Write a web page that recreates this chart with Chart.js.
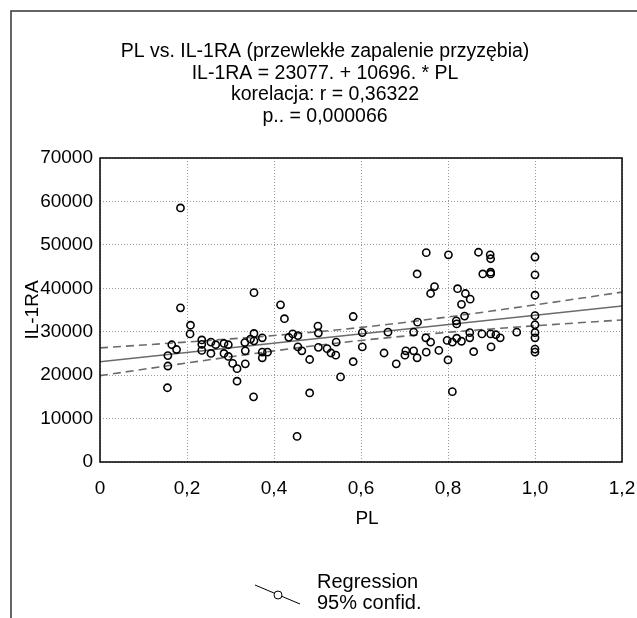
<!DOCTYPE html>
<html>
<head>
<meta charset="utf-8">
<script src="https://cdn.jsdelivr.net/npm/chart.js@4/dist/chart.umd.min.js"></script>
<style>
  html, body { margin: 0; padding: 0; background: #fff; }
  #wrap { width: 637px; height: 618px; }
</style>
</head>
<body>
<div id="wrap"><canvas id="chart" width="637" height="618"></canvas></div>
<script>
/* dane */
const plValues = [
  0.185, 0.354, 0.185, 0.208, 0.207, 0.165, 0.176, 0.156, 0.156, 0.155,
  0.234, 0.234, 0.234, 0.255, 0.255, 0.266, 0.285, 0.295, 0.285, 0.295,
  0.305, 0.315, 0.315, 0.333, 0.346, 0.354, 0.354, 0.373, 0.334, 0.334,
  0.373, 0.373, 0.385, 0.353, 0.750, 0.729, 0.769, 0.760, 0.415, 0.424,
  0.434, 0.443, 0.455, 0.455, 0.464, 0.482, 0.482, 0.453, 0.501, 0.502,
  0.502, 0.522, 0.531, 0.543, 0.542, 0.553, 0.582, 0.582, 0.603, 0.603,
  0.653, 0.662, 0.681, 0.701, 0.703, 0.721, 0.721, 0.730, 0.729, 0.749,
  0.750, 0.760, 0.779, 0.801, 0.870, 0.897, 0.898, 1.000, 0.880, 0.898,
  0.898, 1.000, 0.822, 0.840, 0.851, 0.831, 1.000, 0.838, 0.819, 0.820,
  1.000, 1.000, 1.000, 1.000, 1.000, 1.000, 0.850, 0.850, 0.878, 0.898,
  0.910, 0.920, 0.958, 0.899, 0.859, 0.800, 0.798, 0.810, 0.820, 0.831,
  0.810
];
const il1raValues = [
  58500, 39000, 35500, 31500, 29500, 27000, 25900, 24500, 22100, 17100,
  28100, 27100, 25700, 27600, 25000, 27000, 27300, 27000, 25000, 24300,
  22700, 21500, 18600, 27500, 28300, 29600, 27900, 28600, 25600, 22600,
  25300, 24000, 25300, 15000, 48200, 43300, 40400, 38800, 36200, 33000,
  28700, 29500, 29100, 26500, 25600, 23600, 15900, 5900, 31300, 29700,
  26400, 26100, 25100, 27600, 24600, 19600, 33500, 23100, 29800, 26500,
  25100, 29900, 22600, 24600, 25600, 29900, 25600, 32200, 24000, 28600,
  25300, 27600, 25700, 47700, 48300, 47700, 46800, 47200, 43300, 43700,
  43300, 43100, 39900, 38800, 37500, 36300, 38400, 33600, 32500, 31800,
  33700, 31600, 29800, 28600, 26000, 25300, 29800, 28600, 29500, 29500,
  29300, 28600, 29900, 26500, 25400, 23500, 28000, 27600, 28500, 27800,
  16200
];

/* linia regresji: IL-1RA = 23077 + 10696 * PL */
const regX = [0, 1.2];
const regY = [23077, 35912];

/* przedział ufności 95% (odczytany) */
const bandX = [0, 0.1, 0.2, 0.3, 0.4, 0.5, 0.6, 0.7, 0.8, 0.9, 1.0, 1.1, 1.2];
const bandUpper = [26277, 26940, 27624, 28347, 29126, 29997, 30995, 32136, 33405, 34764, 36181, 37636, 39112];
const bandLower = [19877, 21354, 22808, 24225, 25584, 26853, 27995, 28992, 29863, 30642, 31365, 32050, 32712];

const xTicks = [0, 0.2, 0.4, 0.6, 0.8, 1.0, 1.2];
const titleLines = [
  "PL vs. IL-1RA (przewlekłe zapalenie przyzębia)",
  "IL-1RA = 23077. + 10696. * PL",
  "korelacja: r = 0,36322",
  "p.. = 0,000066"
];
const legendLines = ["Regression", "95% confid."];

const FONT = "'Liberation Sans', Arial, Helvetica, sans-serif";

function zip(xs, ys) {
  return xs.map((x, i) => ({ x, y: ys[i] }));
}

/* ramka, tytuł, obramowanie wykresu i legenda */
const decorPlugin = {
  id: "decor",
  afterDraw(chart) {
    const { ctx, chartArea } = chart;
    ctx.save();

    // ramka strony
    ctx.strokeStyle = "#333";
    ctx.lineWidth = 1.5;
    ctx.beginPath();
    ctx.moveTo(637, 11);
    ctx.lineTo(11, 11);
    ctx.lineTo(11, 618);
    ctx.stroke();

    // obramowanie obszaru wykresu
    ctx.strokeStyle = "#000";
    ctx.lineWidth = 1.5;
    ctx.strokeRect(chartArea.left, chartArea.top, chartArea.right - chartArea.left, chartArea.bottom - chartArea.top);

    // tytuł
    ctx.fillStyle = "#000";
    ctx.font = "19.5px " + FONT;
    ctx.textAlign = "center";
    ctx.textBaseline = "middle";
    titleLines.forEach((t, i) => ctx.fillText(t, 325, 52 + i * 21.5));

    // oś X - podpis
    ctx.font = "19px " + FONT;
    ctx.fillText("PL", 367, 519);

    // legenda
    ctx.strokeStyle = "#000";
    ctx.lineWidth = 1;
    ctx.beginPath();
    ctx.moveTo(255, 585);
    ctx.lineTo(300, 604);
    ctx.stroke();
    ctx.beginPath();
    ctx.arc(278, 595, 4, 0, Math.PI * 2);
    ctx.fillStyle = "#fff";
    ctx.fill();
    ctx.stroke();

    ctx.fillStyle = "#000";
    ctx.font = "20px " + FONT;
    ctx.textAlign = "left";
    legendLines.forEach((t, i) => ctx.fillText(t, 317, 582 + i * 21));

    ctx.restore();
  }
};

const ctx = document.getElementById("chart");

new Chart(ctx, {
  type: "scatter",
  data: {
    datasets: [
      {
        label: "IL-1RA",
        data: zip(plValues, il1raValues),
        pointStyle: "circle",
        pointRadius: 3.6,
        pointHoverRadius: 3.6,
        borderColor: "#000",
        borderWidth: 1.6,
        backgroundColor: "rgba(0,0,0,0)",
        order: 0
      },
      {
        label: "Regression",
        data: zip(regX, regY),
        showLine: true,
        pointRadius: 0,
        borderColor: "#6b6b6b",
        borderWidth: 1.6,
        order: 1
      },
      {
        label: "95% upper",
        data: zip(bandX, bandUpper),
        showLine: true,
        pointRadius: 0,
        tension: 0.4,
        cubicInterpolationMode: "monotone",
        borderColor: "#6b6b6b",
        borderWidth: 1.6,
        borderDash: [8, 5],
        order: 2
      },
      {
        label: "95% lower",
        data: zip(bandX, bandLower),
        showLine: true,
        pointRadius: 0,
        tension: 0.4,
        cubicInterpolationMode: "monotone",
        borderColor: "#6b6b6b",
        borderWidth: 1.6,
        borderDash: [8, 5],
        order: 2
      }
    ]
  },
  options: {
    responsive: false,
    animation: false,
    events: [],
    layout: { padding: { left: 0, right: 15, top: 158, bottom: 86 } },
    plugins: {
      legend: { display: false },
      title: { display: false },
      tooltip: { enabled: false }
    },
    scales: {
      x: {
        type: "linear",
        min: 0,
        max: 1.2,
        afterFit: (s) => { s.height = 70; s.paddingLeft = 0; s.paddingRight = 0; },
        afterBuildTicks: (s) => { s.ticks = xTicks.map((v) => ({ value: v })); },
        grid: { color: "#9a9a9a", lineWidth: 1, drawTicks: false },
        border: { display: false, dash: [1, 2] },
        ticks: {
          color: "#000",
          padding: 15,
          maxRotation: 0,
          font: { size: 19, family: FONT },
          callback: (v) => (v === 0 ? "0" : Number(v).toFixed(1).replace(".", ","))
        },
        title: { display: false }
      },
      y: {
        min: 0,
        max: 70000,
        afterFit: (s) => { s.width = 100; },
        grid: { color: "#9a9a9a", lineWidth: 1, drawTicks: false },
        border: { display: false, dash: [1, 2] },
        ticks: {
          color: "#000",
          padding: 7,
          stepSize: 10000,
          font: { size: 19, family: FONT },
          callback: (v) => String(v)
        },
        title: {
          display: true,
          text: "IL-1RA",
          color: "#000",
          font: { size: 19, family: FONT },
          padding: { top: 21, bottom: 0 }
        }
      }
    }
  },
  plugins: [decorPlugin]
});
</script>
</body>
</html>
